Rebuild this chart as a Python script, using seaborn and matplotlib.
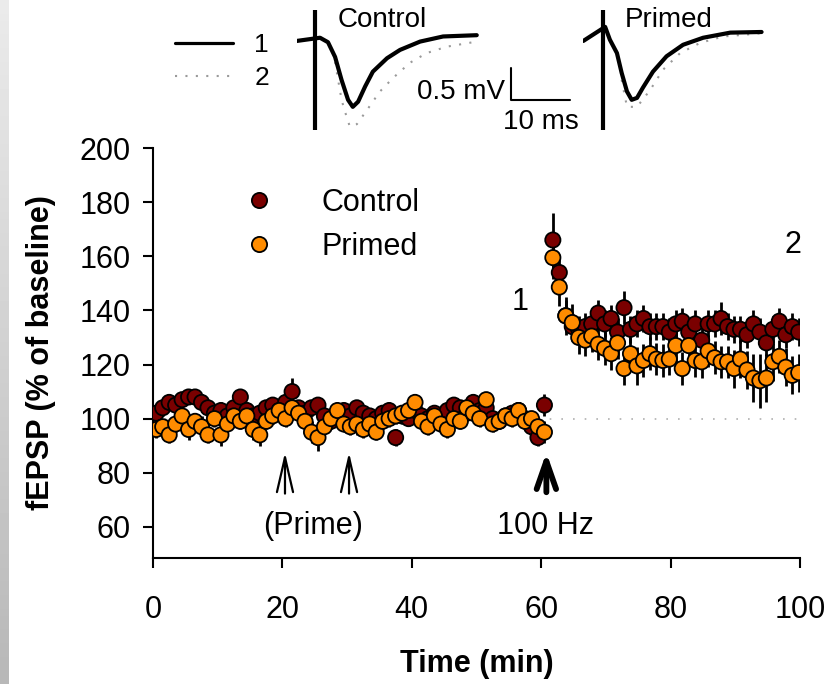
import numpy as np
import pandas as pd
import seaborn as sns
import matplotlib.pyplot as plt

# ---- fEPSP time course (% of baseline), one point per minute ----
t_base = np.arange(0.5, 61, 1.0)      # baseline, before 100 Hz
t_post = np.arange(61.8, 100, 1.0)    # after 100 Hz

ctrl_base = [102, 104, 106, 105, 107, 108, 108, 106, 104, 102,
             103, 101, 104, 108, 103, 101, 102, 104, 105, 103,
             106, 110, 104, 102, 104, 105, 101, 99, 102, 103,
             101, 104, 102, 101, 100, 102, 103, 93, 101, 100,
             103, 101, 100, 102, 99, 103, 105, 104, 102, 106,
             103, 104, 100, 99, 101, 102, 103, 100, 97, 93,
             105]
prim_base = [96, 97, 94, 98, 101, 96, 99, 97, 94, 100,
             94, 98, 101, 99, 101, 96, 94, 99, 101, 103,
             100, 104, 102, 99, 95, 93, 97, 100, 103, 98,
             97, 98, 96, 98, 95, 99, 100, 101, 102, 103,
             106, 99, 97, 101, 98, 96, 100, 99, 104, 102,
             100, 107, 98, 99, 101, 100, 103, 99, 100, 97,
             95]
ctrl_post = [166, 154, 138, 134, 133, 134, 135, 139, 135, 137,
             132, 141, 133, 135, 137, 134, 134, 134, 132, 135,
             136, 132, 135, 129, 135, 135, 137, 134, 133, 133,
             131, 135, 132, 128, 133, 136, 131, 134, 132]
prim_post = [159.5, 148.6, 138, 135.5, 130, 129, 130.5, 127.5, 126, 124,
             128, 118.5, 124, 119.5, 121.5, 124, 122, 121.5, 122, 127,
             118.5, 127, 121.5, 121, 125, 122.5, 121, 121, 118.5, 122,
             118, 115, 114, 115, 121, 123, 119, 116, 117]

ctrl_err_base = [3, 3, 2, 3, 3, 2, 3, 3, 2, 3, 3, 3, 3, 3, 3, 2, 3, 3, 3, 2,
                 3, 5, 3, 3, 3, 3, 2, 3, 3, 2, 3, 3, 3, 2, 3, 3, 3, 3, 3, 2,
                 3, 3, 2, 3, 3, 3, 3, 3, 2, 3, 3, 3, 3, 3, 3, 2, 3, 3, 3, 3,
                 4]
prim_err_base = [3, 3, 3, 3, 3, 4, 3, 4, 3, 3, 4, 3, 3, 3, 3, 4, 4, 3, 3, 3,
                 3, 3, 3, 3, 4, 5, 3, 3, 3, 3, 3, 4, 3, 3, 3, 3, 3, 3, 3, 3,
                 3, 3, 3, 3, 3, 3, 3, 3, 3, 3, 3, 3, 3, 3, 3, 3, 3, 3, 3, 3,
                 4]
ctrl_err_post = [10, 7, 6, 5, 5, 5, 5, 5, 5, 5, 5, 6, 5, 5, 5, 5, 5, 5, 5, 5,
                 5, 5, 5, 5, 5, 5, 6, 5, 5, 5, 5, 5, 5, 5, 5, 5, 5, 5, 5]
prim_err_post = [8, 7, 7, 7, 6, 6, 6, 6, 6, 6, 6, 6, 6, 7, 6, 6, 6, 6, 6, 6,
                 6, 6, 6, 6, 6, 6, 6, 6, 7, 7, 7, 9, 10, 9, 7, 6, 7, 7, 7]

groups = ["Control", "Primed"]
colors = {"Control": "#7a0000", "Primed": "#ff8c00"}

# ---- example fEPSP traces (ms, mV), stimulus artifact at t = 0 ----
art_top, art_bot = 0.48, -1.39
c1_t = [-3.1, 0.85, 2.2, 3.4, 4.5, 5.6, 6.4, 7.3, 8.5, 9.8, 12.2, 14.4, 17.8, 21.7, 27.4]
c1_v = [0.0, 0.05, -0.02, -0.25, -0.61, -0.92, -1.03, -0.95, -0.71, -0.48, -0.27, -0.14, -0.01, 0.07, 0.09]
c2_t = [3.4, 4.5, 5.1, 5.9, 7.1, 8.8, 11.0, 13.2, 16.1, 18.9, 22.3, 27.4]
c2_v = [-0.33, -0.92, -1.11, -1.34, -1.30, -1.08, -0.79, -0.58, -0.34, -0.19, -0.09, -0.01]
p1_t = [-3.4, 0.3, 1.1, 2.3, 3.1, 4.0, 4.8, 5.7, 6.7, 8.4, 10.7, 13.5, 16.9, 21.5, 26.8]
p1_v = [0.0, 0.22, 0.02, -0.19, -0.5, -0.79, -0.92, -0.89, -0.73, -0.48, -0.24, -0.06, 0.05, 0.13, 0.14]
p2_t = [3.1, 4.0, 5.7, 7.9, 10.1, 13.0, 16.4, 20.3, 26.8]
p2_v = [-0.61, -1.03, -1.03, -0.77, -0.45, -0.19, -0.03, 0.07, 0.12]

rows = []
for g, tb, vb, eb, tp, vp, ep in [
        ("Control", t_base, ctrl_base, ctrl_err_base, t_post, ctrl_post, ctrl_err_post),
        ("Primed", t_base, prim_base, prim_err_base, t_post, prim_post, prim_err_post)]:
    for t, v, e in zip(np.concatenate([tb, tp]), vb + vp, eb + ep):
        rows.append((g, t, v, e))
df = pd.DataFrame(rows, columns=["group", "time", "fepsp", "err"])

sns.set_style("ticks", {"text.color": "black", "axes.labelcolor": "black",
                        "xtick.color": "black", "ytick.color": "black",
                        "axes.edgecolor": "black"})
plt.rcParams['font.family'] = ['Liberation Sans', 'DejaVu Sans']

fig = plt.figure(figsize=(8.38, 6.84), dpi=100)
ax = fig.add_axes([153/838, 1-558/684, 647/838, 410/684])

# grey strip down the left edge
strip = fig.add_axes([0, 0, 8/838, 1])
strip.imshow(np.linspace(0.92, 0.72, 100).reshape(-1, 1), cmap="gray", vmin=0, vmax=1,
             aspect="auto")
strip.axis("off")

ax.axhline(100, color="#b0b0b0", lw=1.2, ls=(0, (1, 6)), zorder=0)

for g in groups:
    d = df[df.group == g]
    ax.errorbar(d["time"], d["fepsp"], yerr=d["err"], fmt="none", ecolor="black",
                elinewidth=2, capsize=0, zorder=1)
sns.scatterplot(data=df, x="time", y="fepsp", hue="group", palette=colors,
                s=120, edgecolor="black", linewidth=1.3, ax=ax, zorder=3)

ax.set_xlim(0, 100)
ax.set_ylim(48.5, 200)
ax.set_xticks([0, 20, 40, 60, 80, 100])
ax.set_yticks([60, 80, 100, 120, 140, 160, 180, 200])
sns.despine(ax=ax)
for s in ["left", "bottom"]:
    ax.spines[s].set_linewidth(1.5)
ax.tick_params(axis="both", direction="out", length=7, width=1.5, labelsize=22)
ax.tick_params(axis="x", pad=20)
ax.tick_params(axis="y", pad=9)
ax.set_xlabel("Time (min)", fontsize=22, fontweight="bold")
ax.set_ylabel("fEPSP (% of baseline)", fontsize=22, fontweight="bold")
ax.xaxis.set_label_coords(0.5, -0.222)
ax.yaxis.set_label_coords(-0.15, 0.5)

sns.move_legend(ax, "upper left", bbox_to_anchor=(244/838, 1-188/684),
                bbox_transform=fig.transFigure, title=None, frameon=False,
                fontsize=22, handlelength=1.0, handletextpad=1.55,
                labelspacing=0.45, borderpad=0, borderaxespad=0)

# prime and tetanus arrows
for tx in [20.4, 30.3]:
    ax.annotate("", xy=(tx, 87.5), xytext=(tx, 72.3),
                arrowprops=dict(arrowstyle="->,head_length=1.25,head_width=0.29",
                                lw=1.6, color="black", mutation_scale=20,
                                shrinkA=0, shrinkB=0))
ax.annotate("", xy=(60.8, 87.5), xytext=(60.8, 72.8),
            arrowprops=dict(arrowstyle="->,head_length=1.0,head_width=0.35",
                            lw=4.2, color="black", mutation_scale=20,
                            shrinkA=0, shrinkB=0))
ax.text(24.7, 60.5, "(Prime)", fontsize=22, ha="center", va="center")
ax.text(60.6, 60.5, "100 Hz", fontsize=22, ha="center", va="center")
ax.text(56.7, 143, "1", fontsize=22, ha="center", va="center")
ax.text(98.9, 164, "2", fontsize=22, ha="center", va="center")

# ---- trace insets ----
ax_c = fig.add_axes([297/838, 1-135/684, 183/838, 135/684])
ax_p = fig.add_axes([583/838, 1-135/684, 183/838, 135/684])
for a, (t1, v1, t2, v2), xl, name, nx in [
        (ax_c, (c1_t, c1_v, c2_t, c2_v), (-3.05, 27.95), "Control", 3.9),
        (ax_p, (p1_t, p1_v, p2_t, p2_v), (-3.45, 27.55), "Primed", 3.6)]:
    a.plot(t2, v2, color="#9a9a9a", lw=1.5, ls=(0, (1, 4)))
    a.plot(t1, v1, color="black", lw=3.0, solid_joinstyle="round",
           solid_capstyle="round")
    a.vlines(0, art_bot, art_top, color="black", lw=3.0)
    a.set_xlim(*xl)
    a.set_ylim(-1.47, 0.64)
    a.text(nx, 0.33, name, fontsize=20, va="center", ha="left")
    a.axis("off")

# scale bar 10 ms / 0.5 mV
ax_c.plot([33.2, 33.2, 43.2], [-0.42, -0.92, -0.92], color="black", lw=1.5,
          clip_on=False)
ax_c.text(32.2, -0.8, "0.5 mV", fontsize=20, ha="right", va="center")
ax_c.text(38.3, -1.27, "10 ms", fontsize=20, ha="center", va="center")

h1 = plt.Line2D([], [], color="black", lw=2.3)
h2 = plt.Line2D([], [], color="#9a9a9a", lw=1.5, ls=(0, (1, 4)))
fig.legend([h1, h2], ["1", "2"], loc="upper left",
           bbox_to_anchor=(175/838, 1-33/684), frameon=False, fontsize=19,
           handlelength=2.2, handletextpad=0.8, labelspacing=0.35,
           borderpad=0, borderaxespad=0)

fig.savefig("out.png", dpi=100)
